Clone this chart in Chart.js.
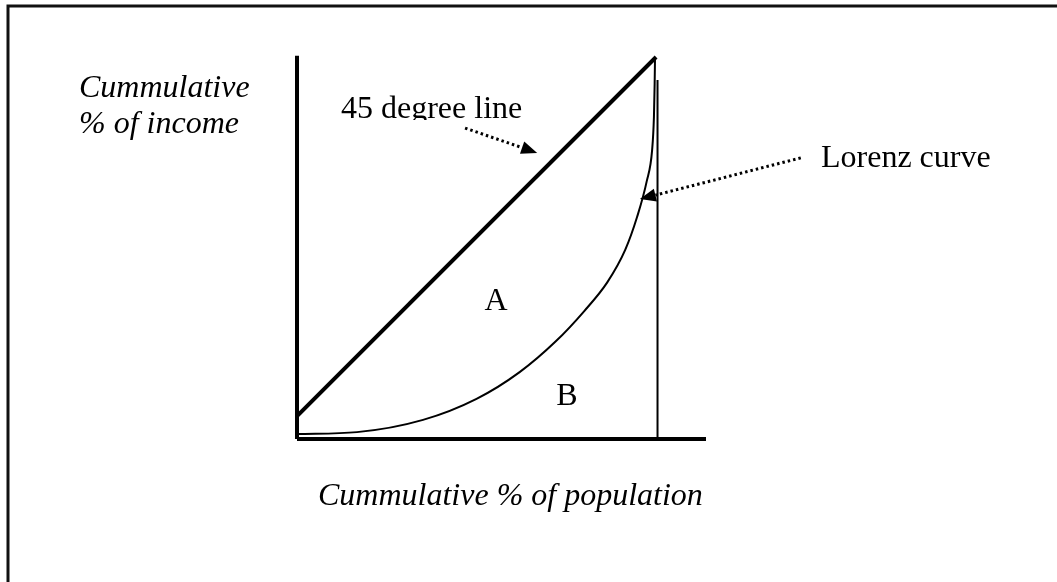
<!DOCTYPE html>
<html>
<head>
<meta charset="utf-8">
<script src="https://cdn.jsdelivr.net/npm/chart.js@4"></script>
<style>
  html, body { margin: 0; padding: 0; background: #fff; }
  #wrap { position: relative; width: 1057px; height: 582px; }
</style>
</head>
<body>
<div id="wrap"><canvas id="lorenzChart"></canvas></div>
<script>
// Lorenz curve (cumulative % of population vs % of income)
const lorenzPop    = [0, 16.7, 35.1, 50, 62, 72, 80, 86.4, 91.4, 94.7, 97.4, 98.9, 99.4, 99.6, 99.7];
const lorenzIncome = [1.3, 1.8, 5, 10.5, 17.5, 25.5, 33.5, 41, 49.5, 58.1, 67.5, 75.7, 84.3, 93, 99.7];

// 45 degree line
const equalityPop    = [0, 100];
const equalityIncome = [6, 100];

// axes and the right hand edge
const yAxisPop = [0, 0],         yAxisIncome = [0, 100.3];
const xAxisPop = [0, 113.9],     xAxisIncome = [0, 0];
const edgePop  = [100.4, 100.4], edgeIncome = [0, 94];

const xTitle = 'Cummulative % of population';
const yTitle = ['Cummulative', '% of income'];
const lineLabels = ['45 degree line', 'Lorenz curve'];
const areaLabels = ['A', 'B'];

function toPoints(xs, ys) {
  return xs.map((x, i) => ({ x: x, y: ys[i] }));
}

function lineSet(xs, ys, width, smooth) {
  return {
    data: toPoints(xs, ys),
    showLine: true,
    borderColor: '#000',
    borderWidth: width,
    pointRadius: 0,
    cubicInterpolationMode: smooth ? 'monotone' : 'default',
    tension: 0,
    clip: false
  };
}

// dotted arrow between two data points
function drawArrow(chart, from, to) {
  const ctx = chart.ctx;
  const sx = chart.scales.x, sy = chart.scales.y;
  const x1 = sx.getPixelForValue(from[0]), y1 = sy.getPixelForValue(from[1]);
  const x2 = sx.getPixelForValue(to[0]), y2 = sy.getPixelForValue(to[1]);
  const ang = Math.atan2(y2 - y1, x2 - x1);
  const len = 16, half = 6.5;
  const bx = x2 - len * Math.cos(ang), by = y2 - len * Math.sin(ang);

  ctx.save();
  ctx.strokeStyle = '#000';
  ctx.lineWidth = 3;
  ctx.setLineDash([2.5, 3]);
  ctx.beginPath();
  ctx.moveTo(x1, y1);
  ctx.lineTo(bx, by);
  ctx.stroke();

  ctx.setLineDash([]);
  ctx.fillStyle = '#000';
  ctx.beginPath();
  ctx.moveTo(x2, y2);
  ctx.lineTo(bx + half * Math.sin(ang), by - half * Math.cos(ang));
  ctx.lineTo(bx - half * Math.sin(ang), by + half * Math.cos(ang));
  ctx.closePath();
  ctx.fill();
  ctx.restore();
}

const decorations = {
  id: 'decorations',
  afterDraw(chart) {
    const ctx = chart.ctx;
    const sx = chart.scales.x, sy = chart.scales.y;

    ctx.save();
    // page frame (left and top only)
    ctx.strokeStyle = '#111';
    ctx.lineWidth = 3;
    ctx.beginPath();
    ctx.moveTo(8, 600);
    ctx.lineTo(8, 6);
    ctx.lineTo(1060, 6);
    ctx.stroke();

    ctx.fillStyle = '#000';
    ctx.textAlign = 'left';
    ctx.textBaseline = 'alphabetic';

    // axis titles
    ctx.font = 'italic 32px "Liberation Serif", "Times New Roman", serif';
    ctx.fillText(yTitle[0], 79, 97);
    ctx.fillText(yTitle[1], 79, 133);
    ctx.fillText(xTitle, 318, 505);

    // line labels (the first one is cut off below its baseline in the original)
    ctx.font = '32px "Liberation Serif", "Times New Roman", serif';
    ctx.save();
    ctx.beginPath();
    ctx.rect(300, 80, 260, 40);
    ctx.clip();
    ctx.fillText(lineLabels[0], 341, 118);
    ctx.restore();
    ctx.fillText(lineLabels[1], 821, 167);

    // area labels
    ctx.textAlign = 'center';
    ctx.textBaseline = 'middle';
    ctx.fillText(areaLabels[0], sx.getPixelForValue(55.4), sy.getPixelForValue(36.1));
    ctx.fillText(areaLabels[1], sx.getPixelForValue(75.2), sy.getPixelForValue(11));
    ctx.restore();

    drawArrow(chart, [46.8, 81.4], [66.9, 74.9]);
    drawArrow(chart, [140.3, 73.6], [95.5, 62.8]);
  }
};

new Chart(document.getElementById('lorenzChart'), {
  type: 'scatter',
  data: {
    datasets: [
      lineSet(yAxisPop, yAxisIncome, 4),
      lineSet(xAxisPop, xAxisIncome, 4),
      lineSet(edgePop, edgeIncome, 2),
      lineSet(equalityPop, equalityIncome, 4),
      lineSet(lorenzPop, lorenzIncome, 2, true)
    ]
  },
  options: {
    responsive: true,
    maintainAspectRatio: false,
    animation: false,
    events: [],
    layout: { padding: { left: 297, right: 351, top: 57, bottom: 143 } },
    plugins: {
      legend: { display: false },
      tooltip: { enabled: false }
    },
    scales: {
      x: { type: 'linear', min: 0, max: 113.9, display: false },
      y: { type: 'linear', min: 0, max: 100, display: false }
    }
  },
  plugins: [decorations]
});
</script>
</body>
</html>
